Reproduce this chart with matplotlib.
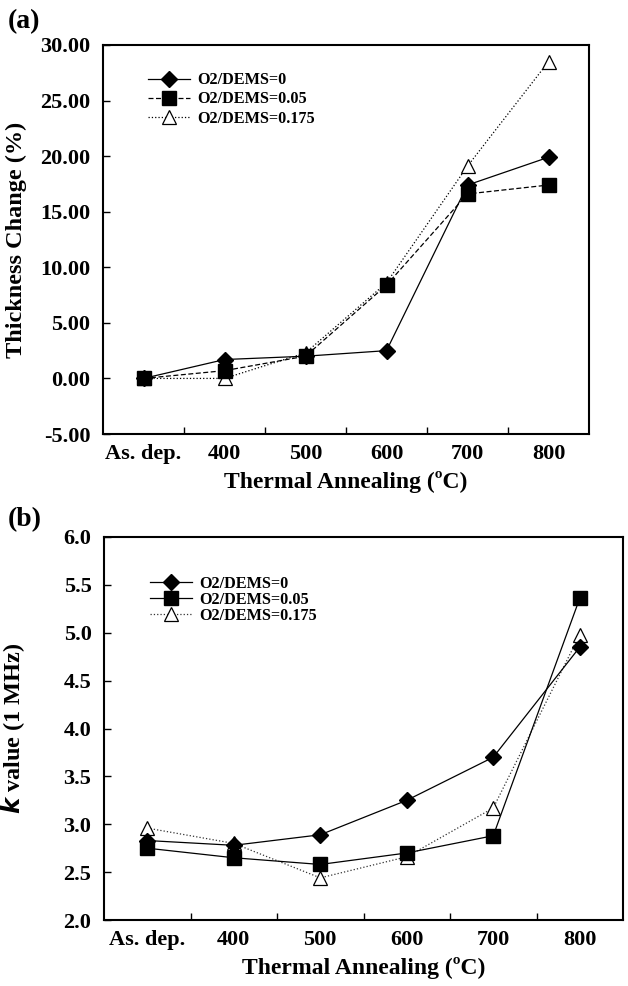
import matplotlib
matplotlib.use("Agg")
import matplotlib.pyplot as plt
from matplotlib.ticker import FixedLocator, FormatStrFormatter

plt.rcParams['font.family'] = ['Liberation Serif', 'DejaVu Serif']
plt.rcParams['font.weight'] = 'bold'

categories = ["As. dep.", "400", "500", "600", "700", "800"]
labels = ["O2/DEMS=0", "O2/DEMS=0.05", "O2/DEMS=0.175"]

thick_0 = [0.0, 1.7, 2.0, 2.5, 17.4, 19.9]
thick_005 = [0.0, 0.7, 2.0, 8.4, 16.6, 17.4]
thick_0175 = [0.0, 0.0, 2.3, 8.6, 19.1, 28.5]

k_0 = [2.83, 2.78, 2.89, 3.25, 3.70, 4.85]
k_005 = [2.75, 2.65, 2.58, 2.70, 2.88, 5.36]
k_0175 = [2.96, 2.80, 2.44, 2.66, 3.17, 4.98]

W, H = 628, 986
fig = plt.figure(figsize=(W / 100, H / 100), dpi=100)

def px_axes(l, t, r, b):
    return fig.add_axes([l / W, 1 - b / H, (r - l) / W, (b - t) / H])

ax1 = px_axes(103, 45, 589, 434)
ax2 = px_axes(104, 537, 623, 920)

xs = [i + 0.5 for i in range(len(categories))]

def style_axes(ax, yticks, fmt):
    ax.set_xlim(0, len(categories))
    ax.set_xticks(xs)
    ax.set_xticklabels(categories)
    ax.xaxis.set_minor_locator(FixedLocator(list(range(1, len(categories)))))
    ax.tick_params(axis='x', which='major', length=0, pad=7, labelsize=16)
    ax.tick_params(axis='x', which='minor', direction='in', length=5, width=1)
    ax.set_yticks(yticks)
    ax.yaxis.set_major_formatter(FormatStrFormatter(fmt))
    ax.tick_params(axis='y', which='major', direction='in', length=5, width=1,
                   pad=9, labelsize=16)
    for lab in ax.get_xticklabels() + ax.get_yticklabels():
        lab.set_fontweight('bold')
    for s in ax.spines.values():
        s.set_linewidth(1.5)
    ax.set_ylim(yticks[0], yticks[-1])

ms_d, ms_s, ms_t = 7.8, 10.0, 10.5
lw = 0.9

ax1.plot(xs, thick_0, '-', color='black', lw=lw, marker='D', ms=ms_d,
         mfc='black', mec='black', label=labels[0], zorder=3)
ax1.plot(xs, thick_005, '--', color='black', lw=lw, marker='s', ms=ms_s,
         mfc='black', mec='black', label=labels[1], zorder=4, dashes=(4, 2))
ax1.plot(xs, thick_0175, ':', color='black', lw=lw, marker='^', ms=ms_t,
         mfc='white', mec='black', mew=0.9, label=labels[2], zorder=2)
style_axes(ax1, [-5, 0, 5, 10, 15, 20, 25, 30], '%.2f')
ax1.set_xlabel('Thermal Annealing (\u00baC)', fontsize=17, fontweight='bold', labelpad=5)
ax1.set_ylabel('Thickness Change (%)', fontsize=17.5, fontweight='bold')
ax1.yaxis.set_label_coords(-0.156, 0.5)
leg1 = ax1.legend(loc='upper left', bbox_to_anchor=(0.093, 0.93), frameon=False,
                  fontsize=11.7, handlelength=2.6, handletextpad=0.4,
                  labelspacing=0.2, borderpad=0, borderaxespad=0)
for t in leg1.get_texts():
    t.set_fontweight('bold')

ax2.plot(xs, k_0, '-', color='black', lw=lw, marker='D', ms=ms_d,
         mfc='black', mec='black', label=labels[0], zorder=3)
ax2.plot(xs, k_005, '-', color='black', lw=lw, marker='s', ms=ms_s,
         mfc='black', mec='black', label=labels[1], zorder=4)
ax2.plot(xs, k_0175, ':', color='#333333', lw=lw, marker='^', ms=ms_t,
         mfc='white', mec='black', mew=0.9, label=labels[2], zorder=2)
style_axes(ax2, [2.0, 2.5, 3.0, 3.5, 4.0, 4.5, 5.0, 5.5, 6.0], '%.1f')
ax2.set_xlabel('Thermal Annealing (\u00baC)', fontsize=17, fontweight='bold', labelpad=5)
ax2.set_ylabel(r'$\mathbfit{k}$ value (1 MHz)', fontsize=17.5, fontweight='bold')
ax2.yaxis.set_label_coords(-0.148, 0.5)
leg2 = ax2.legend(loc='upper left', bbox_to_anchor=(0.089, 0.898), frameon=False,
                  fontsize=11.7, handlelength=2.6, handletextpad=0.4,
                  labelspacing=0.0, borderpad=0, borderaxespad=0)
for t in leg2.get_texts():
    t.set_fontweight('bold')

fig.text(8 / W, 1 - 22 / H, '(a)', fontsize=20, fontweight='bold', va='center', ha='left')
fig.text(8 / W, 1 - 520 / H, '(b)', fontsize=20, fontweight='bold', va='center', ha='left')

fig.savefig('out.png', dpi=100)
